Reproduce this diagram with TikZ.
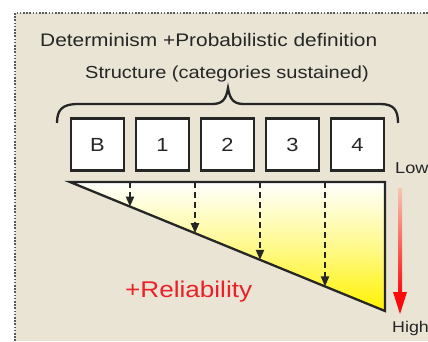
\documentclass[tikz,border=0pt]{standalone}
\usepackage{fontspec}
\setmainfont{Liberation Sans}[FakeStretch=1.15]
\usetikzlibrary{arrows.meta}
\definecolor{bgbeige}{RGB}{234,228,213}
\definecolor{txtgray}{RGB}{38,38,38}
\definecolor{relred}{RGB}{236,32,40}
\definecolor{arrred}{RGB}{250,10,10}
\definecolor{arrpale}{RGB}{245,200,180}
\definecolor{wedgeyellow}{RGB}{255,242,0}
\tikzset{
  catbox/.style={draw=txtgray, line width=2.3pt, fill=white, minimum width=53pt, minimum height=52pt, inner sep=0pt, text=txtgray, font=\fontsize{19}{19}\selectfont},
  lbl/.style={text=txtgray, inner sep=0pt, anchor=base west},
  dasharrow/.style={draw=txtgray, line width=2.1pt, dash pattern=on 6pt off 4pt, -{Triangle[length=10pt,width=8pt]}},
}
\begin{document}
\begin{tikzpicture}[x=1pt,y=-1pt]
\useasboundingbox (0,0) rectangle (428,341);
\fill[white] (0,0) rectangle (428,341);
\fill[bgbeige] (15,13) rectangle (428,341);
\draw[gray!70!black, line width=1.5pt, dash pattern=on 1.6pt off 1.6pt] (15,341) -- (15,13) -- (428,13);
% titles
\node[lbl, font=\fontsize{18.15}{20}\selectfont] (title) at (40,46.7) {Determinism +Probabilistic definition};
\node[lbl, font=\fontsize{17.4}{20}\selectfont] (struct) at (85,78) {Structure (categories sustained)};
% brace
\draw[txtgray, line width=2.3pt] (57,123) .. controls (57,110) and (62,104) .. (78,104) -- (212,104) .. controls (222,104) and (226,100) .. (228,88) .. controls (230,100) and (234,104) .. (244,104) -- (380,104) .. controls (394,104) and (398,110) .. (398,123);
% boxes
\node[catbox] (bB) at (97.5,144.5) {B};
\node[catbox] (b1) at (162.5,144.5) {1};
\node[catbox] (b2) at (227.5,144.5) {2};
\node[catbox] (b3) at (292.5,144.5) {3};
\node[catbox] (b4) at (357.5,144.5) {4};
% wedge
\shade[top color=white, bottom color=wedgeyellow, middle color=wedgeyellow!45] (70,182) -- (385,182) -- (385,311) -- cycle;
\draw[txtgray, line width=2.3pt, line join=miter] (70,182) -- (385,182) -- (385,311) -- cycle;
% arrows
\coordinate (t1) at (130,182); \coordinate (h1) at (130,206.6);
\coordinate (t2) at (195,182); \coordinate (h2) at (195,233.2);
\coordinate (t3) at (260,182); \coordinate (h3) at (260,259.8);
\coordinate (t4) at (325,182); \coordinate (h4) at (325,286.4);
\draw[dasharrow] (t1) -- (h1);
\draw[dasharrow] (t2) -- (h2);
\draw[dasharrow] (t3) -- (h3);
\draw[dasharrow] (t4) -- (h4);
% red scale arrow
\shade[top color=arrpale, middle color=arrred!85!white, bottom color=arrred] (398,188) rectangle (402,296);
\fill[arrred] (393,292) -- (407,292) -- (400,314) -- cycle;
\node[lbl, font=\fontsize{15.8}{16}\selectfont] (low) at (395,173) {Low};
\node[lbl, font=\fontsize{15.5}{16}\selectfont] (high) at (392,332) {High};
\node[lbl, text=relred, font=\fontsize{22.7}{24}\selectfont] (rel) at (125,297) {+Reliability};
\end{tikzpicture}
\end{document}
